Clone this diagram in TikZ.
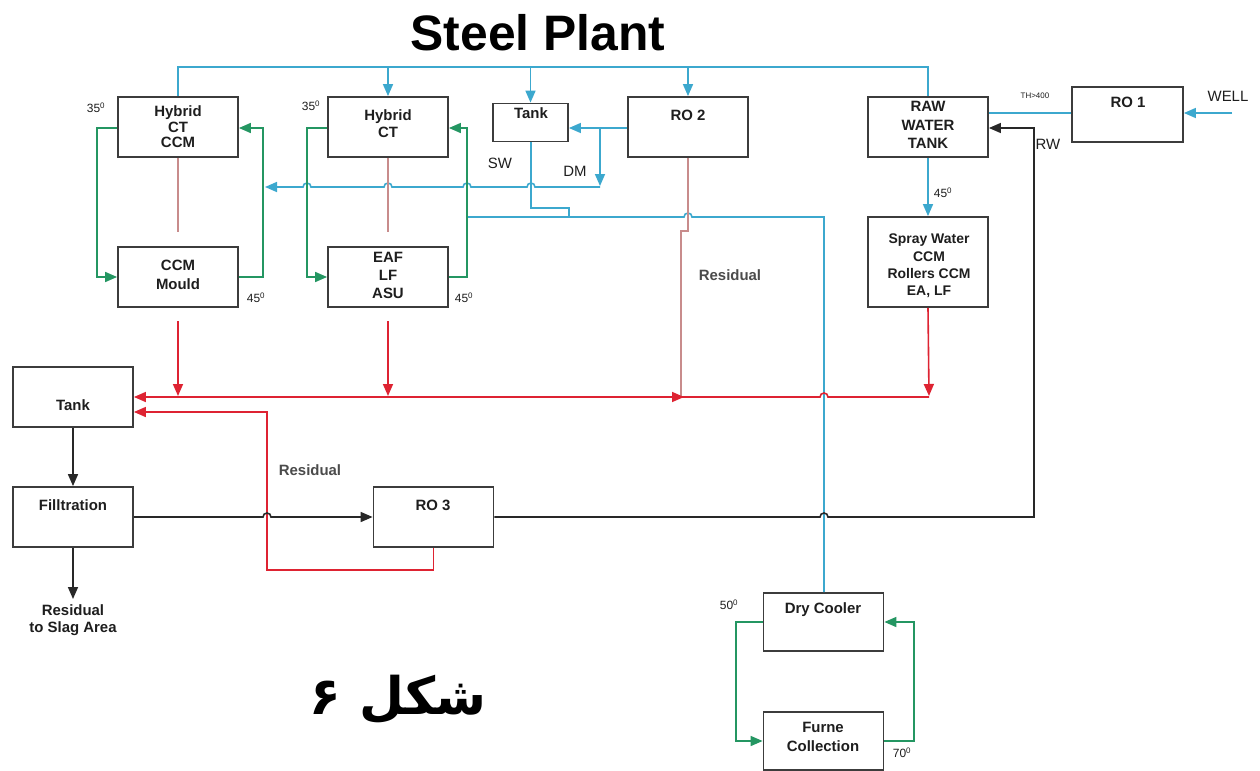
\documentclass[tikz,border=0pt]{standalone}
\usepackage{fontspec}
\setmainfont{Liberation Sans}
\newfontfamily\arabicfont[Script=Arabic]{DejaVu Sans}
\TeXXeTstate=1
\usetikzlibrary{arrows.meta}
\definecolor{bl}{RGB}{60,168,206}
\definecolor{grn}{RGB}{36,150,98}
\definecolor{pnk}{RGB}{200,140,140}
\definecolor{rd}{RGB}{222,35,50}
\definecolor{blk}{RGB}{40,40,40}
\definecolor{boxc}{RGB}{60,60,60}
\definecolor{txtc}{RGB}{30,30,30}
\begin{document}
\begin{tikzpicture}[x=1bp,y=-1bp,
  box/.style={draw=boxc,line width=1.8bp,minimum width=120bp,minimum height=60bp,inner sep=0pt},
  bt/.style={font=\bfseries\fontsize{15}{17}\selectfont,align=center,text=txtc,inner sep=0pt},
  lab/.style={font=\fontsize{15}{17}\selectfont,text=txtc,inner sep=0pt},
  blab/.style={font=\bfseries\fontsize{15}{17}\selectfont,text=txtc!80,inner sep=0pt},
  deg/.style={font=\fontsize{12}{14}\selectfont,text=txtc,inner sep=0pt},
  blu/.style={draw=bl,line width=1.6bp},
  gr/.style={draw=grn,line width=1.6bp},
  pk/.style={draw=pnk,line width=1.6bp},
  rl/.style={draw=rd,line width=1.6bp},
  bk/.style={draw=blk,line width=1.6bp},
  tip/.style={-{Triangle[length=12bp,width=10bp]}},
  every node/.style={inner sep=0pt}
]
\useasboundingbox[fill=white] (0,0) rectangle (1260,771);

% title
\node[font=\bfseries\fontsize{50}{56}\selectfont,text=black] (title) at (538,33) {Steel Plant};

% boxes
\node[box] (hct1) at (178,127) {};
\node[box] (mould) at (178,277) {};
\node[box] (hct2) at (388,127) {};
\node[box] (eaf) at (388,277) {};
\node[box,minimum width=75bp,minimum height=38bp] (tank1) at (530.5,122.5) {};
\node[box] (ro2) at (688,127) {};
\node[box] (raw) at (928,127) {};
\node[box,minimum width=111bp,minimum height=55bp] (ro1) at (1127.5,114.5) {};
\node[box,minimum height=90bp] (spray) at (928,262) {};
\node[box] (tank2) at (73,397) {};
\node[box] (filt) at (73,517) {};
\node[box] (ro3) at (433.5,517) {};
\node[box,minimum height=58bp] (dry) at (823.5,622) {};
\node[box,minimum height=58bp] (furne) at (823.5,741) {};

% box texts
\node[bt,font=\bfseries\fontsize{15}{15.5}\selectfont] (thct1) at (178,127) {Hybrid\\CT\\CCM};
\node[bt] (tmould) at (178,275) {CCM\\[2bp]Mould};
\node[bt] (thct2) at (388,124) {Hybrid\\CT};
\node[bt,font=\bfseries\fontsize{15}{18}\selectfont] (teaf) at (388,275) {EAF\\LF\\ASU};
\node[bt] (ttank1) at (531,113) {Tank};
\node[bt] (tro2) at (688,115) {RO 2};
\node[bt,font=\bfseries\fontsize{15}{18.5}\selectfont] (traw) at (928,125) {RAW\\WATER\\TANK};
\node[bt] (tro1) at (1128,102) {RO 1};
\node[bt,font=\bfseries\fontsize{14}{17.5}\selectfont] (tspray) at (929,266) {Spray Water\\CCM\\Rollers CCM\\EA, LF};
\node[bt] (ttank2) at (73,405) {Tank};
\node[bt] (tfilt) at (73,505) {Filltration};
\node[bt] (tro3) at (433,505) {RO 3};
\node[bt] (tdry) at (823,610) {Dry Cooler};
\node[bt,font=\bfseries\fontsize{15}{19}\selectfont] (tfurne) at (823,737) {Furne\\Collection};

% other labels
\node[deg] (d1) at (96,108) {35\textsuperscript{0}};
\node[deg] (d2) at (311,106) {35\textsuperscript{0}};
\node[deg] (d3) at (256,298) {45\textsuperscript{0}};
\node[deg] (d4) at (464,298) {45\textsuperscript{0}};
\node[deg] (d5) at (943,193) {45\textsuperscript{0}};
\node[deg] (d6) at (729,605) {50\textsuperscript{0}};
\node[deg] (d7) at (902,753) {70\textsuperscript{0}};
\node[lab] (sw) at (500,163) {SW};
\node[lab] (dm) at (575,171) {DM};
\node[lab] (rw) at (1048,144) {RW};
\node[lab] (well) at (1228,96) {WELL};
\node[font=\fontsize{8}{9}\selectfont,text=txtc] (th) at (1035,96) {TH>400};
\node[blab] (res1) at (730,275) {Residual};
\node[blab] (res2) at (310,470) {Residual};
\node[bt] (slag) at (73,620) {Residual\\to Slag Area};
\node[font=\arabicfont\bfseries\fontsize{52}{56}\selectfont,text=black] (shakl) at (398,700) {\beginR شکل ۶\endR};

% coordinates
\coordinate (dmj) at (600,128);
\coordinate (slagtop) at (73,599);

% ---- blue network ----
\draw[blu] (hct1.north) -- (178,67) -- (928,67) -- (raw.north);
\draw[blu,tip] (388,67) -- (hct2.north);
\draw[blu,tip] (tank1.north |- 0,67) -- (tank1.north);
\draw[blu,tip] (688,67) -- (ro2.north);
\draw[blu,tip] (ro2.west |- dmj) -- (tank1.east |- dmj);
\draw[blu,tip] (dmj) -- (600,186);
\draw[blu,tip] (600,187) -- (535,187) arc[start angle=0,end angle=-180,radius=4]
   -- (471,187) arc[start angle=0,end angle=-180,radius=4]
   -- (392,187) arc[start angle=0,end angle=-180,radius=4]
   -- (311,187) arc[start angle=0,end angle=-180,radius=4]
   -- (265,187);
\draw[blu] (tank1.south -| 531,0) -- (531,208) -- (569,208) -- (569,217);
\draw[blu] (467,217) -- (684,217) arc[start angle=180,end angle=360,radius=4]
   -- (824,217) -- (dry.north -| 824,0);
\draw[blu] (ro1.west |- 0,113) -- (raw.east |- 0,113);
\draw[blu,tip] (1232,113) -- (ro1.east |- 0,113);
\draw[blu,tip] (raw.south) -- (spray.north);

% ---- green loops ----
\draw[gr,tip] (hct1.west |- 0,128) -- (97,128) -- (97,277) -- (mould.west);
\draw[gr,tip] (mould.east) -- (263,277) -- (263,128) -- (hct1.east |- 0,128);
\draw[gr,tip] (hct2.west |- 0,128) -- (307,128) -- (307,277) -- (eaf.west);
\draw[gr,tip] (eaf.east) -- (467,277) -- (467,128) -- (hct2.east |- 0,128);
\draw[gr,tip] (dry.west) -- (736,622) -- (736,741) -- (furne.west);
\draw[gr,tip] (furne.east) -- (914,741) -- (914,622) -- (dry.east);

% ---- pale red links ----
\draw[pk] (hct1.south) -- (178,232);
\draw[pk] (hct2.south) -- (388,232);
\draw[pk] (ro2.south) -- (688,231) -- (681,231) -- (681,397);

% ---- red collector ----
\draw[rl,tip] (spray.south) -- (929,396);
\draw[rl,tip] (929,397) -- (828,397) arc[start angle=0,end angle=-180,radius=4]
   -- (tank2.east);
\draw[rl,tip] (178,321) -- (178,396);
\draw[rl,tip] (388,321) -- (388,396);
\draw[rl,tip] (665,397) -- (684,397);
\draw[rl,tip] (ro3.south) -- (433.5,570) -- (267,570) -- (267,412) -- (tank2.east |- 0,412);

% ---- black lines ----
\draw[bk,tip] (tank2.south) -- (filt.north);
\draw[bk,tip] (filt.south) -- (slagtop);
\draw[bk,tip] (filt.east) -- (263,517) arc[start angle=180,end angle=360,radius=4] -- (ro3.west);
\draw[bk,tip] (ro3.east) -- (820,517) arc[start angle=180,end angle=360,radius=4]
   -- (1034,517) -- (1034,128) -- (raw.east |- 0,128);
\end{tikzpicture}
\end{document}
